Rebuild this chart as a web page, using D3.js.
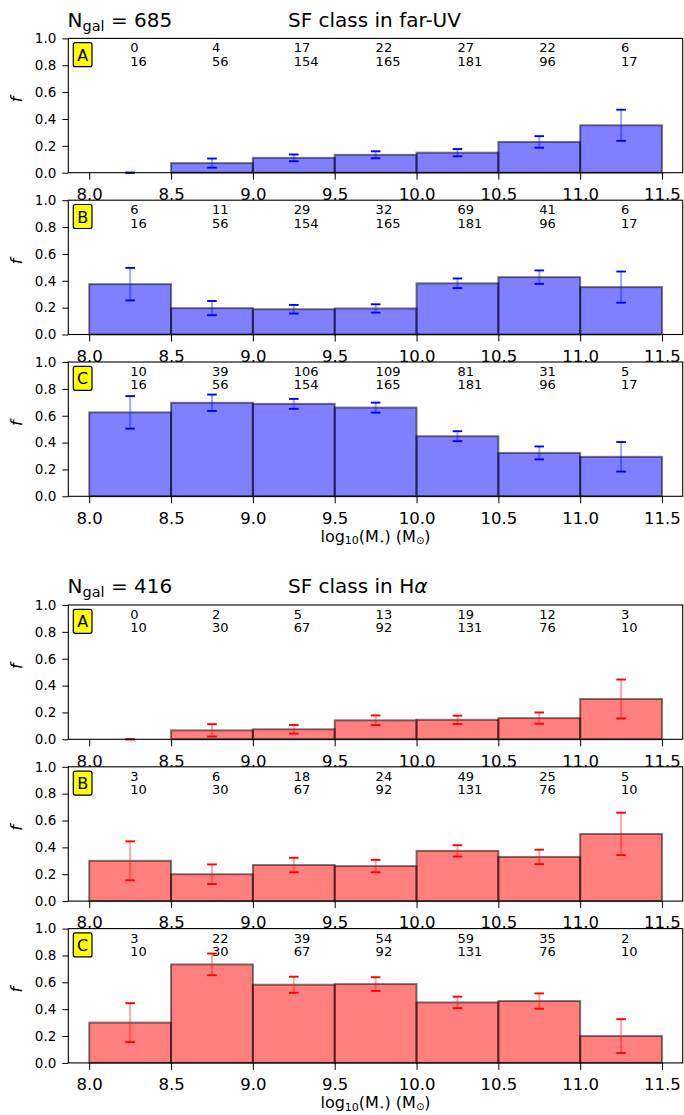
<!DOCTYPE html>
<html>
<head>
<meta charset="utf-8">
<script src="https://cdn.jsdelivr.net/npm/d3@7"></script>
<style>
  html, body { margin: 0; padding: 0; background: #fff; }
  svg text { font-family: "DejaVu Sans", sans-serif; fill: #000; }
</style>
</head>
<body>
<svg id="fig" width="684" height="1115"></svg>
<script>
// Stellar-mass bins (log10 M*/Msun)
const binEdges = [8.0, 8.5, 9.0, 9.5, 10.0, 10.5, 11.0, 11.5];
const xTicks = [8.0, 8.5, 9.0, 9.5, 10.0, 10.5, 11.0, 11.5];
const yTicks = [0.0, 0.2, 0.4, 0.6, 0.8, 1.0];
const classLabels = ["A", "B", "C"];

// far-UV sample: galaxies per bin, and per class
const fuvTotal = [16, 56, 154, 165, 181, 96, 17];
const fuvA = [0, 4, 17, 22, 27, 22, 6];
const fuvB = [6, 11, 29, 32, 69, 41, 6];
const fuvC = [10, 39, 106, 109, 81, 31, 5];
// far-UV error bar half-widths
const fuvErrA = [0.000, 0.034, 0.025, 0.026, 0.027, 0.043, 0.116];
const fuvErrB = [0.121, 0.053, 0.032, 0.031, 0.036, 0.050, 0.116];
const fuvErrC = [0.121, 0.061, 0.037, 0.037, 0.037, 0.048, 0.110];

// H-alpha sample
const haTotal = [10, 30, 67, 92, 131, 76, 10];
const haA = [0, 2, 5, 13, 19, 12, 3];
const haB = [3, 6, 18, 24, 49, 25, 5];
const haC = [3, 22, 39, 54, 59, 35, 2];
const haErrA = [0.000, 0.046, 0.032, 0.036, 0.031, 0.042, 0.145];
const haErrB = [0.145, 0.073, 0.054, 0.046, 0.042, 0.054, 0.158];
const haErrC = [0.145, 0.081, 0.060, 0.051, 0.043, 0.057, 0.126];

const groups = [
  { nGal: 685, title: "SF class in far-UV", italicTail: "", color: "#0000ff", top: 38.4,
    total: fuvTotal, counts: [fuvA, fuvB, fuvC], errs: [fuvErrA, fuvErrB, fuvErrC] },
  { nGal: 416, title: "SF class in H", italicTail: "\u03B1", color: "#ff0000", top: 605.0,
    total: haTotal, counts: [haA, haB, haC], errs: [haErrA, haErrB, haErrC] }
];

const svg = d3.select("#fig");
const axLeft = 68.3, axRight = 682.7;
const panelH = 134.3, panelStep = 161.8;

const x = d3.scaleLinear().domain([7.872, 11.6265]).range([axLeft, axRight]);

groups.forEach(g => {
  // header
  const h = svg.append("text").attr("x", 67.5).attr("y", g.top - 11.7)
    .style("font-size", "20px");
  h.append("tspan").text("N");
  h.append("tspan").attr("dy", 4).style("font-size", "14.5px").text("gal");
  h.append("tspan").attr("dy", -4).text(" = " + g.nGal);

  const t = svg.append("text").attr("x", 288).attr("y", g.top - 11.7)
    .style("font-size", "20px");
  t.append("tspan").text(g.title);
  if (g.italicTail) t.append("tspan").style("font-style", "italic").text(g.italicTail);

  g.counts.forEach((cnt, pi) => {
    const top = g.top + pi * panelStep;
    const bottom = top + panelH;
    const y = d3.scaleLinear().domain([0, 1]).range([bottom, top]);
    const panel = svg.append("g");

    const bins = cnt.map((k, i) => ({
      x0: binEdges[i], x1: binEdges[i + 1], k: k, n: g.total[i],
      f: k / g.total[i], e: g.errs[pi][i]
    }));

    // histogram bars
    panel.selectAll("rect.bar").data(bins).join("rect")
      .attr("class", "bar")
      .attr("x", d => x(d.x0))
      .attr("width", d => x(d.x1) - x(d.x0))
      .attr("y", d => y(d.f))
      .attr("height", d => y(0) - y(d.f))
      .attr("fill", g.color).attr("fill-opacity", 0.5)
      .attr("stroke", "#000").attr("stroke-opacity", 0.5).attr("stroke-width", 2);

    // error bars
    const eb = panel.selectAll("g.eb").data(bins).join("g").attr("class", "eb");
    const cx = d => x((d.x0 + d.x1) / 2);
    eb.append("line")
      .attr("x1", cx).attr("x2", cx)
      .attr("y1", d => y(d.f - d.e)).attr("y2", d => y(d.f + d.e))
      .attr("stroke", g.color).attr("stroke-opacity", 0.35).attr("stroke-width", 2);
    [-1, 1].forEach(s => {
      eb.append("line")
        .attr("x1", d => cx(d) - 4.8).attr("x2", d => cx(d) + 4.8)
        .attr("y1", d => y(d.f + s * d.e)).attr("y2", d => y(d.f + s * d.e))
        .attr("stroke", g.color).attr("stroke-width", 1.9);
    });

    // counts above each bin
    const lab = panel.selectAll("text.cnt").data(bins).join("text")
      .attr("class", "cnt")
      .style("font-size", "13px");
    lab.append("tspan").attr("x", cx).attr("y", top + 13.9).text(d => d.k);
    lab.append("tspan").attr("x", cx).attr("y", top + 27.3).text(d => d.n);

    // axes
    const xAxis = panel.append("g").attr("transform", `translate(0,${bottom})`)
      .call(d3.axisBottom(x).tickValues(xTicks).tickFormat(d3.format(".1f"))
        .tickSize(7).tickPadding(8.6).tickSizeOuter(0));
    xAxis.select(".domain").remove();
    xAxis.selectAll("text").style("font-size", "16.5px");
    xAxis.selectAll("line").attr("stroke", "#000").attr("stroke-width", 1);

    const yAxis = panel.append("g").attr("transform", `translate(${axLeft},0)`)
      .call(d3.axisLeft(y).tickValues(yTicks).tickFormat(d3.format(".1f"))
        .tickSize(6).tickPadding(6).tickSizeOuter(0));
    yAxis.select(".domain").remove();
    yAxis.selectAll("text").style("font-size", "13.5px").style("font-family", "DejaVu Sans");
    yAxis.selectAll("line").attr("stroke", "#000").attr("stroke-width", 1);

    // frame
    panel.append("rect")
      .attr("x", axLeft).attr("y", top)
      .attr("width", axRight - axLeft).attr("height", panelH)
      .attr("fill", "none").attr("stroke", "#000").attr("stroke-width", 1.1);

    // y label
    panel.append("text")
      .attr("transform", `translate(22,${top + panelH / 2 - 6}) rotate(-90)`)
      .attr("text-anchor", "middle")
      .style("font-size", "16px").style("font-style", "italic")
      .text("f");

    // class tag
    panel.append("rect")
      .attr("x", axLeft + 5).attr("y", top + 4.3)
      .attr("width", 18.7).attr("height", 24).attr("rx", 2)
      .attr("fill", "#ffff00").attr("stroke", "#000").attr("stroke-width", 1.2);
    panel.append("text")
      .attr("x", axLeft + 5 + 9.35).attr("y", top + 22.3)
      .attr("text-anchor", "middle")
      .style("font-size", "16px")
      .text(classLabels[pi]);
  });

  // x label
  const lastBottom = g.top + 2 * panelStep + panelH;
  const xl = svg.append("text")
    .attr("x", (axLeft + axRight) / 2).attr("y", lastBottom + 45.5)
    .attr("text-anchor", "middle").style("font-size", "16px");
  xl.append("tspan").text("log");
  xl.append("tspan").attr("dy", 2.5).style("font-size", "11px").text("10");
  xl.append("tspan").attr("dy", -2.5).text("(M");
  xl.append("tspan").attr("dy", 2).style("font-size", "9px").text("\u22C6");
  xl.append("tspan").attr("dy", -2).text(") (M");
  xl.append("tspan").attr("dy", 2).style("font-size", "10px").text("\u2299");
  xl.append("tspan").attr("dy", -2).text(")");
});
</script>
</body>
</html>
